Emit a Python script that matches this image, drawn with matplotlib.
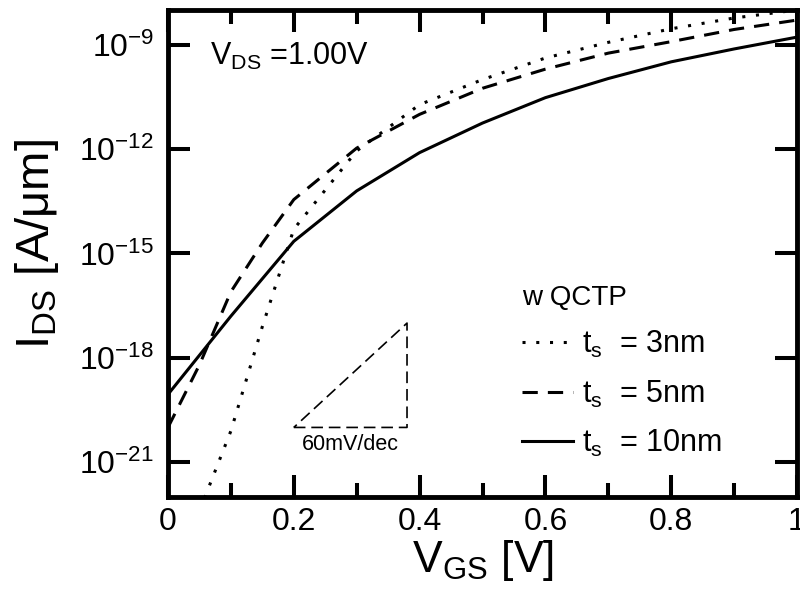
import numpy as np
import matplotlib
matplotlib.use('Agg')
import matplotlib.pyplot as plt
from matplotlib.lines import Line2D
from matplotlib.ticker import FixedLocator, MultipleLocator

plt.rcParams['font.family'] = ['Liberation Sans', 'DejaVu Sans']
plt.rcParams['mathtext.fontset'] = 'custom'
plt.rcParams['mathtext.rm'] = 'Liberation Sans'
plt.rcParams['mathtext.it'] = 'Liberation Sans'
plt.rcParams['mathtext.default'] = 'regular'
plt.rcParams['axes.unicode_minus'] = False

# gate voltage [V] and log10 of drain current [A/um]
vgs_3nm = [0.05, 0.1, 0.15, 0.2, 0.3, 0.4, 0.5, 0.6, 0.7, 0.8, 0.9, 1.0]
log_ids_3nm = [-22.4, -20.1, -17.1, -14.3, -12.05, -10.72, -10.0, -9.38, -8.93, -8.54, -8.23, -8.0]

vgs_5nm = [0.0, 0.05, 0.1, 0.15, 0.2, 0.3, 0.4, 0.5, 0.6, 0.7, 0.8, 0.9, 1.0]
log_ids_5nm = [-20.0, -18.2, -16.1, -14.7, -13.45, -11.97, -11.0, -10.25, -9.7, -9.24, -8.91, -8.56, -8.29]

vgs_10nm = [0.0, 0.1, 0.2, 0.3, 0.4, 0.5, 0.6, 0.7, 0.8, 0.9, 1.0]
log_ids_10nm = [-19.05, -16.8, -14.65, -13.2, -12.1, -11.25, -10.52, -9.97, -9.49, -9.12, -8.78]

# 60 mV/dec reference triangle
tri_v = [0.2, 0.38, 0.38, 0.2]
tri_log_i = [-20.0, -20.0, -17.0, -20.0]

y_ticks = [1e-21, 1e-18, 1e-15, 1e-12, 1e-9]
x_ticks = [0, 0.2, 0.4, 0.6, 0.8, 1.0]
x_ticklabels = ['0', '0.2', '0.4', '0.6', '0.8', '1']

fig = plt.figure(figsize=(8, 5.95), dpi=100)
ax = fig.add_axes([0.21, 0.1647, 0.78625, 0.8185])

dot_style = (0, (1, 3.5))
dash_style = (0, (5, 3.3))
lw = 2.2

ax.plot(vgs_3nm, 10.0 ** np.array(log_ids_3nm), color='black', lw=lw, linestyle=dot_style)
ax.plot(vgs_5nm, 10.0 ** np.array(log_ids_5nm), color='black', lw=lw, linestyle=dash_style)
ax.plot(vgs_10nm, 10.0 ** np.array(log_ids_10nm), color='black', lw=lw, linestyle='-')

ax.plot(tri_v, 10.0 ** np.array(tri_log_i), color='black', lw=1.2, linestyle=(0, (7, 3.5)))
ax.text(np.mean(tri_v[:2]), 10.0 ** -20.2, '60mV/dec', ha='center', va='top', fontsize=15.5)

ax.set_yscale('log')
ax.set_xlim(0, 1)
ax.set_ylim(1e-22, 1e-8)
ax.yaxis.set_major_locator(FixedLocator(y_ticks))
ax.yaxis.set_minor_locator(FixedLocator([]))
ax.set_xticks(x_ticks)
ax.set_xticklabels(x_ticklabels)
ax.xaxis.set_minor_locator(MultipleLocator(0.1))

for s in ax.spines.values():
    s.set_linewidth(3.5)
ax.tick_params(which='both', direction='in', top=True, right=True, width=2.9)
ax.tick_params(which='major', length=15.5)
ax.tick_params(which='minor', length=10)
ax.tick_params(axis='y', labelsize=23, pad=10)
ax.tick_params(axis='x', labelsize=23, pad=7)

ax.set_xlabel('V$_{GS}$ [V]', fontsize=32, labelpad=1)
ax.set_ylabel('I$_{DS}$ [A/\u03bcm]', fontsize=34, labelpad=13, y=0.52)

ax.text(0.067, 0.887, 'V$_{DS}$ =1.00V', transform=ax.transAxes, fontsize=22, va='baseline')

handles = [
    Line2D([], [], color='black', lw=lw, linestyle=dot_style),
    Line2D([], [], color='black', lw=lw, linestyle=dash_style),
    Line2D([], [], color='black', lw=lw, linestyle='-'),
]
labels = ['t$_s$  = 3nm', 't$_s$  = 5nm', 't$_s$  = 10nm']
ax.legend(handles, labels, title='w QCTP', loc='upper left', bbox_to_anchor=(0.563, 0.436),
          frameon=False, fontsize=22, title_fontsize=20, alignment='left',
          handlelength=1.65, handletextpad=0.3, labelspacing=0.6, borderaxespad=0,
          borderpad=0)

fig.savefig('out.png', dpi=100)
